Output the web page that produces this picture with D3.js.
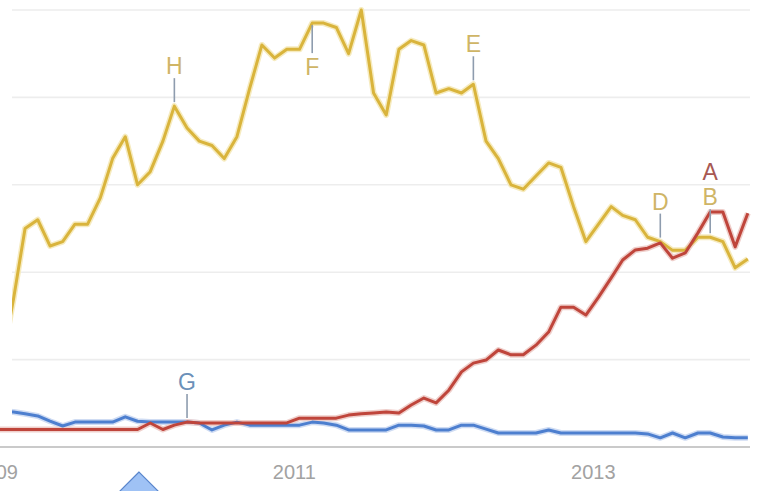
<!DOCTYPE html>
<html><head><meta charset="utf-8">
<script src="https://cdn.jsdelivr.net/npm/d3@7"></script>
<style>body{margin:0;background:#fff;} svg{display:block;}</style>
</head><body>
<svg id="c" width="760" height="491"></svg>
<script>
// ---- data (monthly, Dec 2008 .. Jan 2014) ----
const firstMonth = "2008-12";
const yearTicks = ["2009", "2011", "2013"];
const seriesYellow = [25, 18, 34, 50, 52, 46, 47, 51, 51, 57, 66, 71, 60, 63, 70, 78, 73, 70, 69, 66, 71, 82,
  92, 89, 91, 91, 97, 97, 96, 90, 100, 81, 76, 91, 93, 92, 81, 82, 81, 83, 70, 66, 60, 59, 62, 65, 64, 55,
  47, 51, 55, 53, 52, 48, 47, 45, 45, 48, 48, 47, 41, 43];
const seriesRed = [4, 4, 4, 4, 4, 4, 4, 4, 4, 4, 4, 4, 4, 5.5, 4, 5, 5.7, 5.5, 5.5, 5.5, 5.5, 5.5, 5.5, 5.5, 5.5,
  6.6, 6.6, 6.6, 6.6, 7.3, 7.6, 7.8, 8, 7.8, 9.6, 11.2, 10.1, 13, 17.2, 19.2, 19.9, 22.2, 21.1, 21.1, 23.3, 26.3,
  32, 32, 30.2, 34.3, 38.7, 42.8, 45.1, 45.5, 46.7, 43.2, 44.4, 49, 53.8, 53.8, 45.8, 53.5];
const seriesBlue = [8.5, 8.2, 8.0, 7.6, 7.1, 5.9, 4.8, 5.7, 5.7, 5.7, 5.7, 6.9, 5.9, 5.7, 5.7, 5.7, 5.7, 5.5, 3.9,
  5.0, 5.7, 5, 5, 5, 5, 5, 5.7, 5.5, 5, 3.9, 3.9, 3.9, 3.9, 5, 5, 4.8, 3.9, 3.9, 5, 5, 4.1, 3.2, 3.2, 3.2, 3.2,
  3.9, 3.2, 3.2, 3.2, 3.2, 3.2, 3.2, 3.2, 3.0, 2.1, 3.2, 2.1, 3.2, 3.2, 2.3, 2.1, 2.1];
const markerLetters = ["H", "F", "E", "D", "B", "A", "G"];
const markerSeries  = ["yellow", "yellow", "yellow", "yellow", "yellow", "red", "blue"];
const markerMonths  = ["2010-03", "2011-02", "2012-03", "2013-06", "2013-10", "2013-10", "2010-04"];

// ---- setup ----
const svg = d3.select("#c");
const parseM = d3.timeParse("%Y-%m");
const start = parseM(firstMonth);
const months = seriesYellow.map((_, i) => d3.timeDay.offset(d3.timeMonth.offset(start, i), 14));
const x = d3.scaleTime()
  .domain([new Date(2009, 0, 1), new Date(2013, 0, 1)])
  .range([-4.8, 592.8]);
const y = d3.scaleLinear().domain([0, 100]).range([447, 10]);

// gridlines
svg.append("g").selectAll("line").data([20, 40, 60, 80, 100]).join("line")
  .attr("x1", 0).attr("x2", 750)
  .attr("y1", d => y(d)).attr("y2", d => y(d))
  .attr("stroke", "#ededed").attr("stroke-width", 1.6);

// baseline
svg.append("line").attr("x1", 0).attr("x2", 750).attr("y1", y(0)).attr("y2", y(0))
  .attr("stroke", "#cacaca").attr("stroke-width", 2);

// axis
const ax = svg.append("g").attr("transform", `translate(0,${y(0)})`)
  .call(d3.axisBottom(x)
    .tickValues(yearTicks.map(t => new Date(+t, 0, 1)))
    .tickFormat(d3.timeFormat("%Y"))
    .tickSize(0).tickPadding(18));
ax.select(".domain").remove();
ax.selectAll("text").attr("font-family", "'Liberation Sans', Arial, sans-serif")
  .attr("font-size", 20).attr("fill", "#a2a2a2");

// lines
const colors = {yellow: "#d9b43c", red: "#bf453b", blue: "#4d7fcf"};
const halos = {yellow: "#f6ebbf", red: "#efcfcb", blue: "#cfdcf3"};
const dataBy = {yellow: seriesYellow, red: seriesRed, blue: seriesBlue};
const line = d3.line().x((d, i) => x(months[i])).y(d => y(d));
["blue", "yellow", "red"].forEach(k => {
  svg.append("path").datum(dataBy[k]).attr("d", line).attr("fill", "none")
    .attr("stroke", halos[k]).attr("stroke-width", 6).attr("stroke-linejoin", "round");
});
["blue", "yellow", "red"].forEach(k => {
  svg.append("path").datum(dataBy[k]).attr("d", line).attr("fill", "none")
    .attr("stroke", colors[k]).attr("stroke-width", 3).attr("stroke-linejoin", "round");
});

// markers
const labelColors = {yellow: "#cfb566", red: "#a85953", blue: "#6b90b9"};
const placement = {H: "up", F: "down", E: "up", D: "up", B: "up", A: "stack", G: "up"};
const mk = svg.append("g");
markerLetters.forEach((L, i) => {
  const s = markerSeries[i];
  const di = d3.bisectLeft(months, parseM(markerMonths[i]));
  const px = x(months[di]);
  let v = dataBy[s][di];
  let py = y(v);
  const p = placement[L];
  let base;
  if (p === "stack") {
    // stacked above the yellow marker at same date
    const yy = y(seriesYellow[di]);
    base = yy - 32 - 25;
  } else if (p === "down") {
    mk.append("line").attr("x1", px).attr("x2", px).attr("y1", py + 2).attr("y2", py + 30)
      .attr("stroke", "#8e9cae").attr("stroke-width", 1.6);
    base = py + 52;
  } else {
    mk.append("line").attr("x1", px).attr("x2", px).attr("y1", py - 4).attr("y2", py - 28)
      .attr("stroke", "#8e9cae").attr("stroke-width", 1.6);
    base = py - 32;
  }
  mk.append("text").attr("x", px).attr("y", base).attr("text-anchor", "middle")
    .attr("font-family", "'Liberation Sans', Arial, sans-serif").attr("font-size", 23)
    .attr("fill", labelColors[s]).text(L);
});

// white mask at left edge
svg.append("rect").attr("x", 0).attr("y", 0).attr("width", 12).attr("height", 418).attr("fill", "#fff");

// blue pointer triangle
svg.append("polygon").attr("points", "139,472 119,492 159,492")
  .attr("fill", "#9fc2f5").attr("stroke", "#5a86cc").attr("stroke-width", 1.2);
</script>
</body></html>
